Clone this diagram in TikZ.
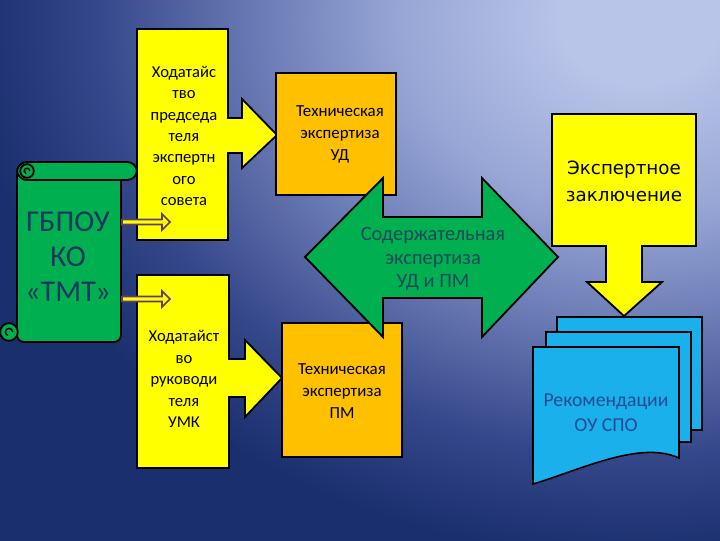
\documentclass[tikz,border=0pt]{standalone}
\usepackage{fontspec}
\setmainfont{Carlito}
\newfontfamily\dejavu{DejaVu Sans}
\definecolor{bglight}{HTML}{B8C4E8}
\definecolor{bgpale}{HTML}{98A6D6}
\definecolor{bgmid}{HTML}{6A7AB4}
\definecolor{bglow}{HTML}{34478A}
\definecolor{bgdark}{HTML}{1A2F6E}
\definecolor{boxyellow}{HTML}{FFFF00}
\definecolor{boxorange}{HTML}{FFC000}
\definecolor{boxgreen}{HTML}{00B050}
\definecolor{docblue}{HTML}{1AB0EC}
\definecolor{arrowpurple}{HTML}{5E3C6E}
\definecolor{scrolltext}{HTML}{17375E}
\definecolor{greentext}{HTML}{1A4A5A}
\definecolor{doctext}{HTML}{1F4E96}
\pgfdeclareradialshading{bgglow}{\pgfpoint{0bp}{0bp}}{color(0bp)=(bglight); color(2.5bp)=(bglight); color(7.5bp)=(bgpale); color(12bp)=(bgmid); color(17bp)=(bglow); color(21bp)=(bgdark); color(50bp)=(bgdark)}
\begin{document}
\begin{tikzpicture}[x=0.025cm, y=-0.025cm, line width=1.3pt,
  ybox/.style={draw=black, fill=boxyellow},
  obox/.style={draw=black, fill=boxorange},
  scrollpart/.style={draw=black, fill=boxgreen},
  smallarr/.style={draw=arrowpurple, line width=1.1pt, fill=boxyellow},
  doc/.style={draw=black, line width=1.1pt, fill=docblue},
  lbl/.style={align=center, inner sep=0pt}]
  \useasboundingbox (0,0) rectangle (720,540);
  % background
  \fill[bgdark] (-5,-5) rectangle (725,545);
  \begin{scope}
    \clip (-5,-5) rectangle (725,545);
    \shade[shading=bgglow] (640,20) ellipse[x radius=20cm, y radius=16cm];
  \end{scope}
  % scroll
  \filldraw[scrollpart, rounded corners=5pt] (17,172) -- (17,342) -- (121,342) -- (121,172);
  \filldraw[scrollpart, rounded corners=7pt] (17,162) rectangle (137,180);
  \filldraw[scrollpart] (27,171) circle[radius=0.17cm];
  \draw[line width=1pt] (27,171) ++(0.07cm,0) arc[start angle=0, end angle=250, radius=0.07cm];
  \filldraw[scrollpart] (9,332) circle[radius=0.22cm];
  \draw[line width=1pt] (9,332) ++(0.09cm,0) arc[start angle=0, end angle=250, radius=0.09cm];
  \node[lbl, text=scrolltext, font=\fontsize{21.5}{25}\selectfont] (gbpou) at (68,257) {ГБПОУ\\КО\\«ТМТ»};
  % yellow callouts
  \filldraw[ybox] (137,29) -- (228,29) -- (228,118) -- (242,118) -- (242,99) -- (277,135)
    -- (242,168) -- (242,153) -- (228,153) -- (228,240) -- (137,240) -- cycle;
  \node[lbl, font=\fontsize{11.8}{15.2}\selectfont] (hod1) at (184,136)
    {Ходатайс\\тво\\председа\\теля\\экспертн\\ого\\совета};
  \filldraw[ybox] (137,275) -- (229,275) -- (229,359) -- (245,359) -- (245,340) -- (282,378)
    -- (245,417) -- (245,397) -- (229,397) -- (229,468) -- (137,468) -- cycle;
  \node[lbl, font=\fontsize{11.8}{15.3}\selectfont] (hod2) at (184,379)
    {Ходатайст\\во\\руководи\\теля\\УМК};
  % small arrows
  \filldraw[smallarr] (122,219.5) -- (162,219.5) -- (162,214) -- (170,222) -- (162,230)
    -- (162,224.5) -- (122,224.5) -- cycle;
  \filldraw[smallarr] (122,296.5) -- (162,296.5) -- (162,291) -- (170,299) -- (162,307)
    -- (162,301.5) -- (122,301.5) -- cycle;
  % orange boxes
  \filldraw[obox] (276,73) rectangle (396,195);
  \node[lbl, font=\fontsize{12}{15.6}\selectfont] (techud) at (340,134)
    {Техническая\\экспертиза\\УД};
  \filldraw[obox] (282,323) rectangle (402,457);
  \node[lbl, font=\fontsize{12}{15.6}\selectfont] (techpm) at (342,391)
    {Техническая\\экспертиза\\ПМ};
  % green double arrow
  \filldraw[draw=black, fill=boxgreen] (305,257) -- (383,178) -- (383,217) -- (482,217) -- (482,178)
    -- (558,257) -- (482,337) -- (482,298) -- (383,298) -- (383,337) -- cycle;
  \node[lbl, text=greentext, font=\fontsize{14.5}{17}\selectfont] (content) at (433,259)
    {Содержательная\\экспертиза\\УД и ПМ};
  % expert conclusion
  \filldraw[ybox] (552,114) -- (696,114) -- (696,246) -- (642,246) -- (642,282) -- (662,282)
    -- (624,316) -- (587,282) -- (606,282) -- (606,246) -- (552,246) -- cycle;
  \node[lbl, font=\dejavu\fontsize{13}{19}\selectfont] (concl) at (624,181)
    {Экспертное\\заключение};
  % documents
  \filldraw[doc] (557,317) rectangle (702,430);
  \filldraw[doc] (546,332) rectangle (691,442);
  \filldraw[doc] (533,347) -- (679,347) -- (679,458)
    .. controls (640,440) and (580,470) .. (533,484) -- cycle;
  \node[lbl, text=doctext, font=\fontsize{14}{18}\selectfont] (recom) at (606,413)
    {Рекомендации\\ОУ СПО};
\end{tikzpicture}
\end{document}
